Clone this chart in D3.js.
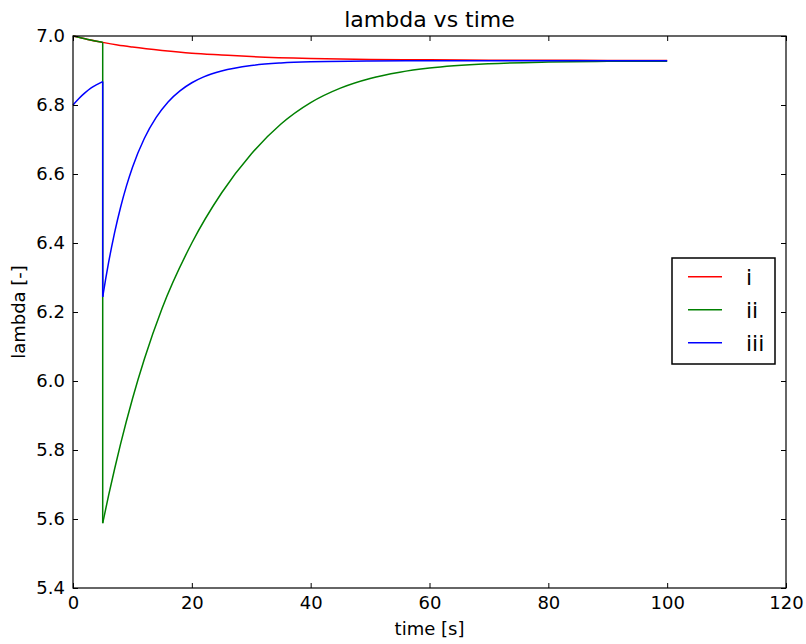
<!DOCTYPE html>
<html><head><meta charset="utf-8">
<script src="https://cdn.jsdelivr.net/npm/d3@7"></script>
<style>body{margin:0;background:#fff} text{font-family:"DejaVu Sans",sans-serif;fill:#000}</style>
</head><body><svg id="c" width="806" height="644"></svg>
<script>
const seriesNames = ["i", "ii", "iii"];
const seriesColors = ["#ff0000", "#008000", "#0000ff"];

const redTime = [0, 2.5, 5, 7.5, 10, 15, 20, 25, 30, 40, 50, 60, 70, 80, 90, 100];
const redValues = [7.000, 6.990, 6.9815, 6.974, 6.968, 6.958, 6.950, 6.945, 6.9405, 6.935, 6.932, 6.931, 6.930, 6.9296, 6.9293, 6.929];

const greenTime = [0, 2.5, 5, 5, 6, 7, 8, 10, 12, 15, 20, 25, 30, 35, 40, 45, 50, 55, 60, 70, 80, 90, 100];
const greenValues = [7.000, 6.990, 6.9815, 5.588, 5.669, 5.745, 5.817, 5.948, 6.063, 6.211, 6.400, 6.545, 6.658, 6.745, 6.807, 6.849, 6.877, 6.895, 6.907, 6.9195, 6.9245, 6.9265, 6.927];

const blueTime = [0, 1, 2, 3, 4, 5, 5, 5.5, 6, 6.5, 7, 8, 9, 10, 12, 14, 16, 18, 20, 22, 25, 30, 35, 40, 50, 60, 70, 80, 90, 100];
const blueValues = [6.800, 6.819, 6.835, 6.849, 6.859, 6.868, 6.244, 6.296, 6.3445, 6.389, 6.430, 6.503, 6.5655, 6.619, 6.703, 6.764, 6.809, 6.841, 6.8645, 6.8815, 6.8985, 6.9145, 6.9218, 6.9252, 6.9274, 6.928, 6.928, 6.928, 6.928, 6.928];

const xTicks = [0, 20, 40, 60, 80, 100, 120];
const yTicks = [5.4, 5.6, 5.8, 6.0, 6.2, 6.4, 6.6, 6.8, 7.0];
const titleText = "lambda vs time";
const xLabel = "time [s]";
const yLabel = "lambda [-]";

const seriesTimes = [redTime, greenTime, blueTime];
const seriesValues = [redValues, greenValues, blueValues];

const W = 806, H = 644;
const m = {left: 73, right: 20, top: 36, bottom: 56};
const pw = W - m.left - m.right, ph = H - m.top - m.bottom;

const svg = d3.select("#c");
const g = svg.append("g").attr("transform", `translate(${m.left},${m.top})`);

const x = d3.scaleLinear().domain([0, 120]).range([0, pw]);
const y = d3.scaleLinear().domain([5.4, 7.0]).range([ph, 0]);

// lines
const smooth = d3.line().x(d => x(d[0])).y(d => y(d[1])).curve(d3.curveMonotoneX);
const straight = d3.line().x(d => x(d[0])).y(d => y(d[1]));

seriesTimes.forEach((ts, si) => {
  const runs = [];
  const jumps = [];
  let cur = [[ts[0], seriesValues[si][0]]];
  for (let i = 1; i < ts.length; i++) {
    const p = [ts[i], seriesValues[si][i]];
    if (ts[i] === ts[i - 1]) {
      runs.push(cur);
      jumps.push([cur[cur.length - 1], p]);
      cur = [p];
    } else cur.push(p);
  }
  runs.push(cur);
  const sg = g.append("g");
  runs.forEach(r => sg.append("path").attr("d", smooth(r)).attr("fill", "none")
    .attr("stroke", seriesColors[si]).attr("stroke-width", 1.5));
  jumps.forEach(j => sg.append("path").attr("d", straight(j)).attr("fill", "none")
    .attr("stroke", seriesColors[si]).attr("stroke-width", 1.5));
});

// axes
const fs = 18;
const ax = g.append("g").attr("transform", `translate(0,${ph})`)
  .call(d3.axisBottom(x).tickValues(xTicks).tickSizeInner(-5).tickSizeOuter(0).tickPadding(8).tickFormat(d3.format("d")));
const ay = g.append("g")
  .call(d3.axisLeft(y).tickValues(yTicks).tickSizeInner(-5).tickSizeOuter(0).tickPadding(8).tickFormat(d3.format(".1f")));
const at = g.append("g")
  .call(d3.axisTop(x).tickValues(xTicks).tickSizeInner(-5).tickSizeOuter(0).tickFormat(""));
const ar = g.append("g").attr("transform", `translate(${pw},0)`)
  .call(d3.axisRight(y).tickValues(yTicks).tickSizeInner(-5).tickSizeOuter(0).tickFormat(""));
[ax, ay, at, ar].forEach(a => {
  a.select(".domain").remove();
  a.selectAll("line").attr("stroke", "#000").attr("stroke-width", 1);
  a.selectAll("text").attr("font-size", fs).attr("font-family", "DejaVu Sans").attr("fill", "#000");
});

g.append("rect").attr("x", 0).attr("y", 0).attr("width", pw).attr("height", ph)
  .attr("fill", "none").attr("stroke", "#000").attr("stroke-width", 1.2);

// title and labels
svg.append("text").attr("x", m.left + pw / 2).attr("y", 27).attr("text-anchor", "middle")
  .attr("font-size", 22).text(titleText);
svg.append("text").attr("x", m.left + pw / 2).attr("y", 635).attr("text-anchor", "middle")
  .attr("font-size", fs).text(xLabel);
svg.append("text").attr("transform", `translate(25,${m.top + ph / 2}) rotate(-90)`).attr("text-anchor", "middle")
  .attr("font-size", fs).text(yLabel);

// legend
const lg = svg.append("g").attr("transform", "translate(672,258)");
lg.append("rect").attr("width", 103).attr("height", 106).attr("fill", "#fff")
  .attr("stroke", "#000").attr("stroke-width", 1.5);
seriesNames.forEach((n, i) => {
  const yy = 18.7 + i * 33;
  lg.append("line").attr("x1", 16).attr("x2", 50).attr("y1", yy).attr("y2", yy)
    .attr("stroke", seriesColors[i]).attr("stroke-width", 1.5);
  lg.append("text").attr("x", 74).attr("y", yy + 8).attr("font-size", 22).text(n);
});
</script></body></html>
